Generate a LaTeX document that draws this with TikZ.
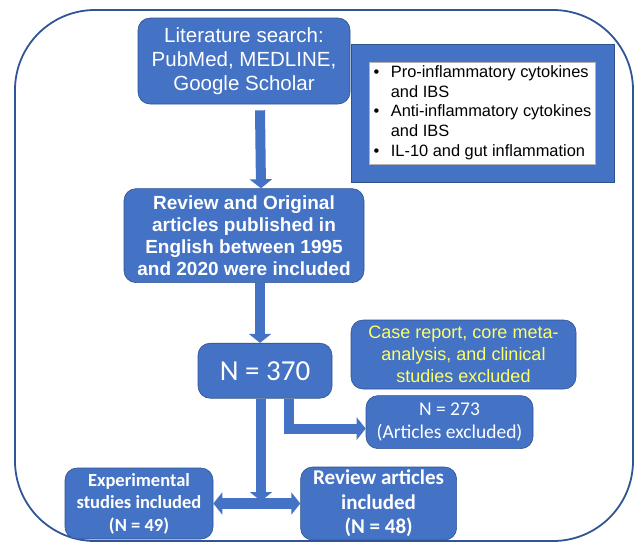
\documentclass[tikz,border=0pt]{standalone}
\usepackage{fontspec}
\setmainfont{Liberation Sans}
\newfontfamily\calibri{Carlito}
\usetikzlibrary{arrows.meta,positioning}
\definecolor{boxblue}{RGB}{68,114,196}
\definecolor{edgeblue}{RGB}{47,82,143}
\definecolor{frameblue}{RGB}{47,85,151}
\definecolor{paleyellow}{RGB}{255,255,102}

\begin{document}
\begin{tikzpicture}[x=1pt,y=-1pt,semithick,sink/.style={execute at begin node={\rule{0pt}{#1}}}]
	  \tikzstyle{block}=[rectangle,rounded corners=12pt,fill=boxblue,draw=edgeblue,line width=0.6pt,text=white,align=center,inner sep=0pt]
	  \tikzstyle{flow}=[draw=boxblue,line width=10pt,-{Triangle[width=22pt,length=9pt]}]
	  \tikzstyle{twoway}=[draw=boxblue,line width=11pt,{Triangle[width=22pt,length=9pt]}-{Triangle[width=22pt,length=9pt]}]

	  \useasboundingbox (0,0) rectangle (636,542);
	  \draw[frameblue,line width=1.8pt,rounded corners=80pt] (15,10) rectangle (633,541);

	  \node[block,sink=1.02em,minimum width=212pt,minimum height=86pt,font=\fontsize{20.5}{24}\selectfont] (lit) at (244,61) {Literature search:\\PubMed, MEDLINE,\\Google Scholar};
	  \node[block,sink=0.9em,minimum width=240pt,minimum height=94pt,font=\bfseries\fontsize{19}{22}\selectfont] (review) [below=84pt of lit] {Review and Original\\articles published in\\English between 1995\\and 2020 were included};
	  \node[block,minimum width=134pt,minimum height=55pt,font=\calibri\fontsize{29}{34}\selectfont] (n370) [below=60pt of review,xshift=21pt] {N = 370};

	  \node[block,rounded corners=0pt,minimum width=263pt,minimum height=138pt] (kwouter) at (482.5,113) {};
	  \node[rectangle,fill=white,draw=gray!60,line width=0.5pt,inner sep=0pt,minimum width=226pt,minimum height=102pt,font=\fontsize{16.4}{19.7}\selectfont] (kwinner) at (kwouter) {%
	    \raisebox{-2pt}{\begin{tabular}{@{}l@{\hspace{11.5pt}}l@{}}
	      • & Pro-inflammatory cytokines\\
	        & and IBS\\
	      • & Anti-inflammatory cytokines\\
	        & and IBS\\
	      • & IL-10 and gut inflammation
	    \end{tabular}}};

	  \node[block,sink=0.95em,minimum width=225pt,minimum height=69pt,text=paleyellow,font=\fontsize{18}{22}\selectfont] (excl) at (463.5,354.5) {Case report, core meta-\\analysis, and clinical\\studies excluded};
	  \node[block,sink=1.05em,minimum width=167pt,minimum height=53pt,font=\calibri\fontsize{19.5}{23}\selectfont] (n273) [below=6pt of excl,xshift=-14pt] {N = 273\\(Articles excluded)};

	  \node[block,sink=1.2em,minimum width=148pt,minimum height=71pt,font=\calibri\bfseries\fontsize{18.5}{22.5}\selectfont] (exper) at (139,503.5) {Experimental\\studies included\\(N = 49)};
	  \node[block,sink=1.15em,minimum width=156pt,minimum height=73pt,font=\calibri\bfseries\fontsize{21}{24.5}\selectfont] (revart) [right=87pt of exper] {Review articles\\included\\(N = 48)};

	  \coordinate (split) at ([xshift=-4pt]n370.south |- exper.east);

	  \draw[flow] ([xshift=16pt,yshift=-6pt]lit.south) -- ([xshift=17pt]review.north);
	  \draw[flow] ([xshift=16pt]review.south) -- ([xshift=-5pt]n370.north);
	  \draw[flow] ([xshift=24pt]n370.south) |- ([yshift=-6.5pt]n273.west);
	  \draw[twoway] (exper.east) -- (revart.west);
	  \draw[flow] ([xshift=-4pt]n370.south) -- ([yshift=2.5pt]split);
	\end{tikzpicture}
\end{document}
